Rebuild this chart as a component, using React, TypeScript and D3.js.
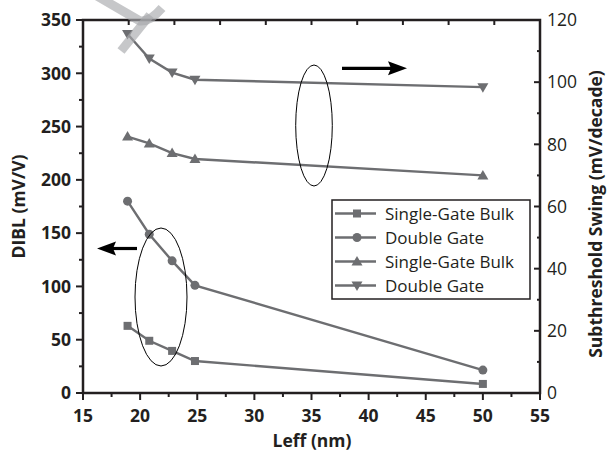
import React from "react";
import * as d3 from "d3";

// Gate length (nm)
const leff = [18.9, 20.8, 22.8, 24.8, 50];
// DIBL (mV/V), left axis
const diblSingleGateBulk = [63, 49, 39.5, 30, 8.5];
const diblDoubleGate = [180, 149, 124, 101, 21.5];
// Subthreshold swing (mV/decade), right axis
const ssSingleGateBulk = [82.5, 80.3, 77.2, 75.3, 70];
const ssDoubleGate = [115.5, 107.6, 103.1, 100.8, 98.4];

const xTicks = [15, 20, 25, 30, 35, 40, 45, 50, 55];
const yLeftTicks = [0, 50, 100, 150, 200, 250, 300, 350];
const yRightTicks = [0, 20, 40, 60, 80, 100, 120];

const legendLabels = ["Single-Gate Bulk", "Double Gate", "Single-Gate Bulk", "Double Gate"];
const legendMarkers = ["square", "circle", "triUp", "triDown"];

const W = 607;
const H = 451;
const M = { left: 83, right: 540, top: 20, bottom: 393 };
const GRAY = "#6d6e71";
const FONT = "'Open Sans', 'DejaVu Sans', sans-serif";

const x = d3.scaleLinear().domain([15, 55]).range([M.left, M.right]);
const yL = d3.scaleLinear().domain([0, 350]).range([M.bottom, M.top]);
const yR = d3.scaleLinear().domain([0, 120]).range([M.bottom, M.top]);

function Marker({ kind, cx, cy }: { kind: string; cx: number; cy: number }) {
  if (kind === "square") return <rect x={cx - 4} y={cy - 4} width={8} height={8} fill={GRAY} />;
  if (kind === "circle") return <circle cx={cx} cy={cy} r={4.5} fill={GRAY} />;
  if (kind === "triUp")
    return <path d={`M${cx},${cy - 5.5} L${cx + 5.5},${cy + 4} L${cx - 5.5},${cy + 4} Z`} fill={GRAY} />;
  return <path d={`M${cx},${cy + 5.5} L${cx + 5.5},${cy - 4} L${cx - 5.5},${cy - 4} Z`} fill={GRAY} />;
}

function Series({ ys, yScale, kind }: { ys: number[]; yScale: d3.ScaleLinear<number, number>; kind: string }) {
  const pts = leff.map((v, i) => [x(v), yScale(ys[i])] as [number, number]);
  const line = d3.line()(pts) || "";
  return (
    <g>
      <path d={line} fill="none" stroke={GRAY} strokeWidth={2.4} />
      {pts.map(([px, py], i) => (
        <Marker key={i} kind={kind} cx={px} cy={py} />
      ))}
    </g>
  );
}

export default function App() {
  const xMinor = d3.range(17.5, 55, 5);
  const yLMinor = d3.range(25, 350, 50);
  const yRMinor = d3.range(10, 120, 20);
  const topTicks = d3.range(1, 10).map((i) => M.left + ((M.right - M.left) * i) / 10);

  return (
    <svg width={W} height={H} style={{ position: "absolute", left: 0, top: 0, background: "#fff" }}>
      <rect width={W} height={H} fill="#fff" />

      {/* data */}
      <Series ys={ssDoubleGate} yScale={yR} kind="triDown" />
      <Series ys={ssSingleGateBulk} yScale={yR} kind="triUp" />
      <Series ys={diblDoubleGate} yScale={yL} kind="circle" />
      <Series ys={diblSingleGateBulk} yScale={yL} kind="square" />

      {/* frame */}
      <rect x={M.left} y={M.top} width={M.right - M.left} height={M.bottom - M.top} fill="none" stroke="#231f20" strokeWidth={2.5} />

      {/* bottom axis */}
      {xTicks.map((t) => (
        <g key={t}>
          <line x1={x(t)} x2={x(t)} y1={M.bottom} y2={M.bottom + 7} stroke="#231f20" strokeWidth={2} />
          <text x={x(t)} y={422} textAnchor="middle" fontFamily={FONT} fontWeight="bold" fontSize={17.5} fill="#231f20">
            {t}
          </text>
        </g>
      ))}
      {xMinor.map((t) => (
        <line key={t} x1={x(t)} x2={x(t)} y1={M.bottom} y2={M.bottom + 4} stroke="#231f20" strokeWidth={2} />
      ))}
      {/* top axis ticks */}
      {topTicks.map((px, i) => (
        <line key={i} x1={px} x2={px} y1={M.top} y2={M.top + 5} stroke="#231f20" strokeWidth={2} />
      ))}

      {/* left axis */}
      {yLeftTicks.map((t) => (
        <g key={t}>
          <line x1={M.left - 7} x2={M.left} y1={yL(t)} y2={yL(t)} stroke="#231f20" strokeWidth={2} />
          <text x={71} y={yL(t) + 6.3} textAnchor="end" fontFamily={FONT} fontWeight="bold" fontSize={17.5} fill="#231f20">
            {t}
          </text>
        </g>
      ))}
      {yLMinor.map((t) => (
        <line key={t} x1={M.left - 4} x2={M.left} y1={yL(t)} y2={yL(t)} stroke="#231f20" strokeWidth={2} />
      ))}

      {/* right axis */}
      {yRightTicks.map((t) => (
        <g key={t}>
          <line x1={M.right - 6} x2={M.right} y1={yR(t)} y2={yR(t)} stroke="#231f20" strokeWidth={2} />
          <text x={547} y={yR(t) + 6.3} textAnchor="start" fontFamily={FONT} fontSize={17.5} fill="#231f20">
            {t}
          </text>
        </g>
      ))}
      {yRMinor.map((t) => (
        <line key={t} x1={M.right - 3} x2={M.right} y1={yR(t)} y2={yR(t)} stroke="#231f20" strokeWidth={2} />
      ))}

      {/* axis titles */}
      <text x={312} y={447} textAnchor="middle" fontFamily={FONT} fontWeight="bold" fontSize={17.5} fill="#231f20">
        Leff (nm)
      </text>
      <text transform={`translate(25,${(M.top + M.bottom) / 2}) rotate(-90)`} textAnchor="middle" fontFamily={FONT} fontWeight="bold" fontSize={17.5} fill="#231f20">
        DIBL (mV/V)
      </text>
      <text transform="translate(602,214) rotate(-90)" textAnchor="middle" fontFamily={FONT} fontWeight="bold" fontSize={17.5} fill="#231f20">
        Subthreshold Swing (mV/decade)
      </text>

      {/* grouping ellipses and arrows */}
      <ellipse cx={161} cy={297} rx={26} ry={69} fill="none" stroke="#000" strokeWidth={1} />
      <ellipse cx={314} cy={125.5} rx={18.3} ry={60.5} fill="none" stroke="#000" strokeWidth={1} />
      <line x1={137} x2={112} y1={248.5} y2={248.5} stroke="#000" strokeWidth={3.2} />
      <path d="M97,248.5 L116,241.5 L113,248.5 L116,255.5 Z" fill="#000" />
      <line x1={342} x2={392} y1={68.3} y2={68.3} stroke="#000" strokeWidth={3.2} />
      <path d="M407,68.3 L388,61.3 L391,68.3 L388,75.3 Z" fill="#000" />

      {/* legend */}
      <rect x={332} y={200} width={198} height={99} fill="#fff" stroke="#231f20" strokeWidth={1.5} />
      {legendLabels.map((lab, i) => {
        const cy = 213.5 + i * 24;
        return (
          <g key={i}>
            <line x1={335} x2={376} y1={cy} y2={cy} stroke={GRAY} strokeWidth={2.4} />
            <Marker kind={legendMarkers[i]} cx={357} cy={cy} />
            <text x={385} y={cy + 6} fontFamily={FONT} fontSize={17} fill="#231f20">
              {lab}
            </text>
          </g>
        );
      })}

      {/* faint mark at top left */}
      <g stroke="#a7a9ac" strokeOpacity={0.65} strokeWidth={9} fill="none" strokeLinecap="butt">
        <path d="M97,-4 L140,21 Q150,22 162,8" />
        <path d="M121,51 L150,15" />
      </g>
    </svg>
  );
}
